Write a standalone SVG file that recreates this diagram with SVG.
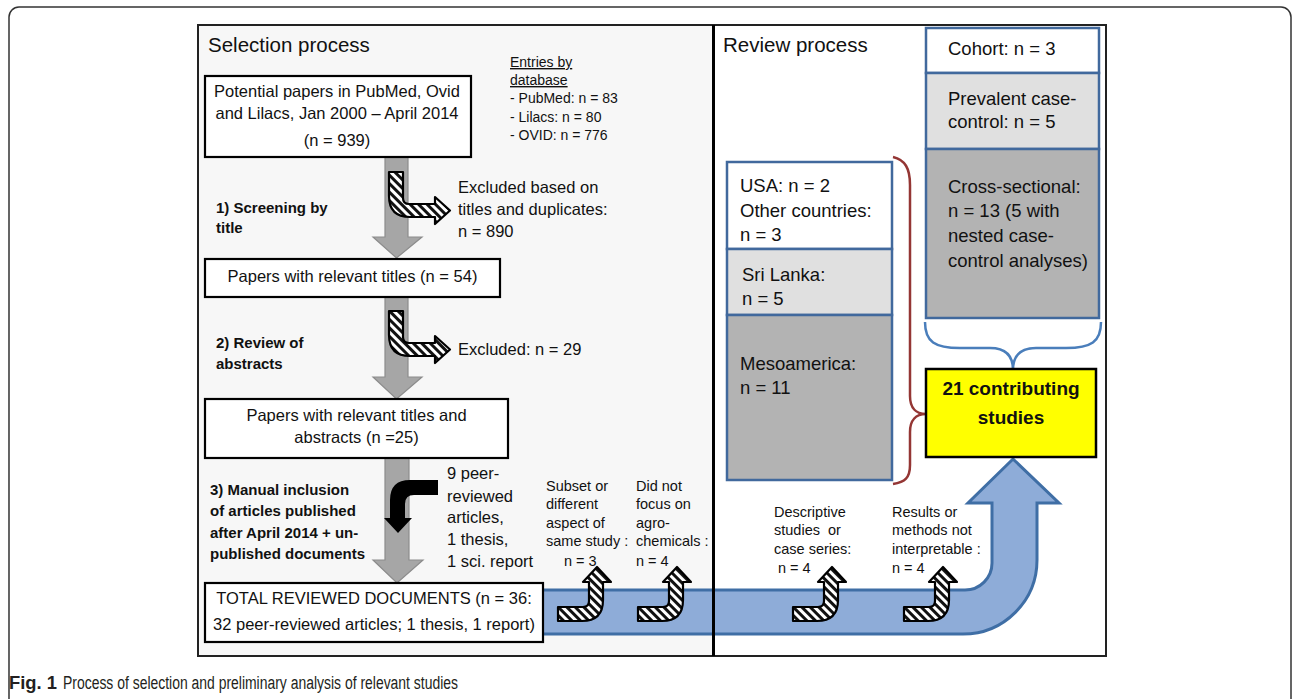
<svg xmlns="http://www.w3.org/2000/svg" width="1292" height="699" viewBox="0 0 1292 699">
<defs>
<pattern id="hatch" patternUnits="userSpaceOnUse" width="6" height="6" patternTransform="rotate(-45)">
<rect width="6" height="6" fill="#ffffff"/>
<rect width="3" height="6" fill="#111111"/>
</pattern>
<style>
text{font-family:"Liberation Sans",Arial,sans-serif;fill:#111}
.t16{font-size:16.5px}
.t14{font-size:14px}
.t145{font-size:14.5px}
.t185{font-size:18.5px}
.b15{font-size:15px;font-weight:bold}
.head{font-size:20.5px}
.mid{text-anchor:middle}
.box{fill:#fff;stroke:#000;stroke-width:2.2}
.sbox{stroke:#41699d;stroke-width:2.5}
.gray{fill:#a6a6a6;stroke:#8c8c8c;stroke-width:1.2}
.hat{fill:url(#hatch);stroke:#000;stroke-width:2.2;stroke-linejoin:round}
</style>
</defs>
<rect x="0" y="0" width="1292" height="699" fill="#fff"/>
<rect x="9" y="7" width="1282" height="740" rx="10" fill="none" stroke="#333" stroke-width="1.5"/>
<g id="panels">
<rect x="198" y="25" width="515" height="631" fill="#f7f7f7"/>
<rect x="713" y="25" width="393" height="631" fill="#ffffff"/>
</g>
<g id="connectors">
<path class="gray" d="M385,157 H408 V237 H422 L396.5,258 L373,237 H385 Z"/>
<path class="gray" d="M385,297 H408 V377 H422 L396.5,399 L373,377 H385 Z"/>
<path class="gray" d="M385,458 H409 V560 H423 L397,583 L373,560 H385 Z"/>
<path d="M540,590 H965 A27,27 0 0 0 992,563 V503 H968 L1013,459 L1059,503 H1037 V560 A74,74 0 0 1 963,634 H540 Z" fill="#8eacd8" stroke="#3f6ea5" stroke-width="3" stroke-linejoin="miter"/>
<path class="hat" d="M389,172 H403 V198 Q403,204 409,204 H435 V197 L450,210.5 L435,224 V217 H410 Q389,217 389,196 Z"/>
<path class="hat" d="M389,311 H403 V337 Q403,343 409,343 H435 V336 L450,349.5 L435,363 V356 H410 Q389,356 389,335 Z"/>
<path d="M438,480 V495 H414 Q405,495 405,504 V518 H412 L398,533 L384,518 H390 V500 Q390,480 410,480 Z" fill="#000"/>
<path d="M893,157 C905,160 910,168 910,185 L910,396 C910,408 916,414 926,414 C916,414 910,420 910,432 L910,465 C910,478 905,482 893,484" fill="none" stroke="#943634" stroke-width="2.5"/>
<path d="M925,322 C925,342 935,348 960,348 L990,348 C1005,348 1013,355 1013,370 C1013,355 1021,348 1036,348 L1066,348 C1091,348 1101,342 1101,322" fill="none" stroke="#4a7ebb" stroke-width="2.5"/>
</g>
<g id="divider">
<rect x="198" y="25" width="908" height="631" fill="none" stroke="#222" stroke-width="2"/>
<line x1="713.5" y1="25" x2="713.5" y2="656" stroke="#000" stroke-width="3"/>
</g>
<g id="titles">
<text class="head" x="208" y="52">Selection process</text>
<text class="head" x="723" y="52">Review process</text>
</g>
<g id="node-potential">
<rect class="box" x="205" y="76" width="266" height="81"/>
<text class="t16 mid" x="337" y="97">Potential papers in PubMed, Ovid</text>
<text class="t16 mid" x="337" y="119">and Lilacs, Jan 2000 – April 2014</text>
<text class="t16 mid" x="337" y="146">(n = 939)</text>
</g>
<g id="node-entries">
<text class="t14" x="510" y="67" text-decoration="underline">Entries by</text>
<text class="t14" x="510" y="85" text-decoration="underline">database</text>
<text class="t14" x="510" y="103">- PubMed: n = 83</text>
<text class="t14" x="510" y="122">- Lilacs: n = 80</text>
<text class="t14" x="510" y="140">- OVID: n = 776</text>
</g>
<g id="node-step1">
<text class="b15" x="216" y="213">1) Screening by</text>
<text class="b15" x="216" y="233">title</text>
</g>
<g id="node-excl1">
<text class="t16" x="458" y="193">Excluded based on</text>
<text class="t16" x="458" y="215">titles and duplicates:</text>
<text class="t16" x="458" y="237">n = 890</text>
</g>
<g id="node-titles">
<rect class="box" x="205" y="259" width="295" height="38"/>
<text class="t16 mid" x="352.5" y="282">Papers with relevant titles (n = 54)</text>
</g>
<g id="node-step2">
<text class="b15" x="216" y="348">2) Review of</text>
<text class="b15" x="216" y="369">abstracts</text>
</g>
<g id="node-excl2">
<text class="t16" x="458" y="355">Excluded: n = 29</text>
</g>
<g id="node-abstracts">
<rect class="box" x="205" y="399" width="303" height="59"/>
<text class="t16 mid" x="356.5" y="421">Papers with relevant titles and</text>
<text class="t16 mid" x="356.5" y="443">abstracts (n =25)</text>
</g>
<g id="node-step3">
<text class="b15" x="210" y="495">3) Manual inclusion</text>
<text class="b15" x="210" y="516">of articles published</text>
<text class="b15" x="210" y="538">after April 2014 + un-</text>
<text class="b15" x="210" y="559">published documents</text>
</g>
<g id="node-added">
<text class="t16" x="447" y="479">9 peer-</text>
<text class="t16" x="447" y="502">reviewed</text>
<text class="t16" x="447" y="523">articles,</text>
<text class="t16" x="447" y="545">1 thesis,</text>
<text class="t16" x="447" y="567">1 sci. report</text>
</g>
<g id="node-total">
<rect class="box" x="205" y="583" width="338" height="59"/>
<text class="t16 mid" x="374" y="604">TOTAL REVIEWED DOCUMENTS (n = 36:</text>
<text class="t16 mid" x="374" y="630">32 peer-reviewed articles; 1 thesis, 1 report)</text>
</g>
<g id="exclusion-arrows">
<path class="hat" d="M558,607 H583 Q589,607 589,601 V582 H583 L597,567 L611,582 H603 V600 Q603,621 582,621 H558 Z"/>
<path class="hat" transform="translate(80,0)" d="M558,607 H583 Q589,607 589,601 V582 H583 L597,567 L611,582 H603 V600 Q603,621 582,621 H558 Z"/>
<path class="hat" transform="translate(235,0)" d="M558,607 H583 Q589,607 589,601 V582 H583 L597,567 L611,582 H603 V600 Q603,621 582,621 H558 Z"/>
<path class="hat" transform="translate(346,0)" d="M558,607 H583 Q589,607 589,601 V582 H583 L597,567 L611,582 H603 V600 Q603,621 582,621 H558 Z"/>
</g>
<g id="node-subset">
<text class="t145" x="546" y="491">Subset or</text>
<text class="t145" x="546" y="509">different</text>
<text class="t145" x="546" y="528">aspect of</text>
<text class="t145" x="546" y="546">same study :</text>
<text class="t145" x="564" y="566">n = 3</text>
</g>
<g id="node-agro">
<text class="t145" x="636" y="491">Did not</text>
<text class="t145" x="636" y="509">focus on</text>
<text class="t145" x="636" y="528">agro-</text>
<text class="t145" x="636" y="546">chemicals :</text>
<text class="t145" x="636" y="566">n = 4</text>
</g>
<g id="node-descriptive">
<text class="t145" x="774" y="517">Descriptive</text>
<text class="t145" x="774" y="535" style="white-space:pre">studies  or</text>
<text class="t145" x="774" y="554">case series:</text>
<text class="t145" x="778" y="573">n = 4</text>
</g>
<g id="node-results">
<text class="t145" x="892" y="517">Results or</text>
<text class="t145" x="892" y="535">methods not</text>
<text class="t145" x="892" y="554">interpretable :</text>
<text class="t145" x="892" y="573">n = 4</text>
</g>
<g id="node-regions">
<rect class="sbox" x="727" y="162" width="165" height="87" fill="#ffffff"/>
<rect class="sbox" x="727" y="249" width="165" height="66" fill="#e0e0e0"/>
<rect class="sbox" x="727" y="315" width="165" height="165" fill="#b3b3b3"/>
<text class="t185" x="740" y="192">USA: n = 2</text>
<text class="t185" x="740" y="217">Other countries:</text>
<text class="t185" x="740" y="241">n = 3</text>
<text class="t185" x="742" y="281">Sri Lanka:</text>
<text class="t185" x="742" y="305">n = 5</text>
<text class="t185" x="740" y="370">Mesoamerica:</text>
<text class="t185" x="740" y="394">n = 11</text>
</g>
<g id="node-designs">
<rect class="sbox" x="926" y="28" width="173" height="45" fill="#ffffff"/>
<rect class="sbox" x="926" y="73" width="173" height="76" fill="#e0e0e0"/>
<rect class="sbox" x="926" y="149" width="173" height="169" fill="#b3b3b3"/>
<text class="t185" x="948" y="55">Cohort: n = 3</text>
<text class="t185" x="948" y="105">Prevalent case-</text>
<text class="t185" x="948" y="128">control: n = 5</text>
<text class="t185" x="948" y="193">Cross-sectional:</text>
<text class="t185" x="948" y="217">n = 13 (5 with</text>
<text class="t185" x="948" y="242">nested case-</text>
<text class="t185" x="948" y="267">control analyses)</text>
</g>
<g id="node-contributing">
<rect x="926" y="369" width="170" height="88" fill="#ffff00" stroke="#000" stroke-width="2.5"/>
<text class="mid" x="1011" y="395" style="font-size:19px;font-weight:bold">21 contributing</text>
<text class="mid" x="1011" y="424" style="font-size:19px;font-weight:bold">studies</text>
</g>
<g id="caption">
<text y="689" style="font-size:18px;fill:#231f20"><tspan x="9" textLength="48" lengthAdjust="spacingAndGlyphs" font-weight="bold">Fig. 1</tspan><tspan x="63" textLength="395" lengthAdjust="spacingAndGlyphs">Process of selection and preliminary analysis of relevant studies</tspan></text>
</g>
</svg>
